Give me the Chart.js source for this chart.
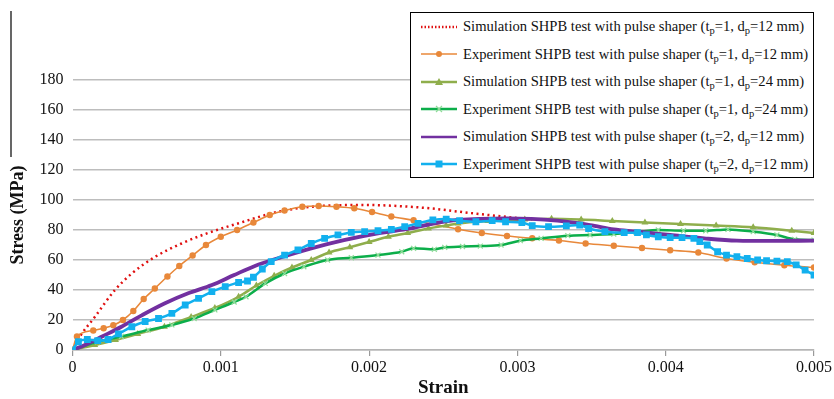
<!DOCTYPE html>
<html>
<head>
<meta charset="utf-8">
<script src="https://cdn.jsdelivr.net/npm/chart.js@4.4.1/dist/chart.umd.min.js"></script>
<style>
  html, body { margin: 0; padding: 0; background: #fff; }
  #wrap { position: relative; width: 834px; height: 399px; }
  #legend {
    position: absolute; left: 410px; top: 12px; width: 404px; height: 166px;
    border: 1.5px solid #000; background: #fff; box-sizing: border-box;
    font-family: "Liberation Serif", "Times New Roman", serif; font-size: 14.6px; color: #111;
    padding-top: 0px;
  }
  .row { display: flex; align-items: center; height: 27.5px; white-space: nowrap; }
  .row svg { margin-left: 9px; margin-right: 5px; flex: none; }
  sub { font-size: 10.5px; vertical-align: -3px; line-height: 0; }
</style>
</head>
<body>
<div id="wrap">
  <canvas id="stressChart" width="834" height="399"></canvas>
  <div id="legend"></div>
</div>
<script>
// 歪み・応力データ
const simT1D12Strain = [0, 0.00005, 0.00015, 0.000286, 0.0004, 0.000555, 0.000735, 0.000914, 0.00112, 0.00138, 0.00161, 0.00195, 0.00237, 0.00271, 0.003, 0.0031];
const simT1D12Stress = [0, 9, 22, 40, 51, 62, 71, 78, 84.5, 92, 95.5, 96.7, 94.8, 91, 88, 87];

const expT1D12Strain = [0, 0.00003, 0.00014, 0.00021, 0.000275, 0.00034, 0.00041, 0.00048, 0.000555, 0.00064, 0.00072, 0.00081, 0.0009, 0.001, 0.00111, 0.00122, 0.00133, 0.00143, 0.00155, 0.00166, 0.00178, 0.0019, 0.00202, 0.00215, 0.0023, 0.0026, 0.00276, 0.00293, 0.0031, 0.00328, 0.00346, 0.00365, 0.00384, 0.00403, 0.00422, 0.00441, 0.0046, 0.0048, 0.005];
const expT1D12Stress = [0, 9, 13, 14.5, 16.5, 20, 26, 34, 41, 49, 56, 63, 70, 75.5, 80, 85, 90, 93, 95.5, 96, 95.5, 94.5, 92, 89, 86.5, 80.5, 78, 76, 74.5, 73, 71, 69.5, 68, 66.5, 65, 61, 58.5, 56.5, 55];

const simT1D24Strain = [0, 0.00015, 0.00029, 0.00044, 0.00062, 0.0008, 0.00096, 0.00112, 0.00124, 0.00136, 0.00148, 0.00161, 0.00173, 0.00187, 0.002, 0.00213, 0.00226, 0.0024, 0.00252, 0.0026, 0.0028, 0.00305, 0.00323, 0.00343, 0.00364, 0.00386, 0.0041, 0.00434, 0.00459, 0.00485, 0.005];
const simT1D24Stress = [0, 3.3, 6.7, 10.7, 15.5, 22, 28, 35.5, 43, 49.5, 55, 60, 65, 68.5, 72, 75.5, 78, 81, 83, 84.4, 86, 87, 87.5, 87, 86, 85, 84, 83, 81.8, 79.5, 78];

const expT1D24Strain = [0, 0.00017, 0.00033, 0.00051, 0.00067, 0.00082, 0.00096, 0.00109, 0.00117, 0.0013, 0.00143, 0.00156, 0.00172, 0.00188, 0.00206, 0.00222, 0.0023, 0.00244, 0.00251, 0.00263, 0.00275, 0.00289, 0.00302, 0.00316, 0.00334, 0.00349, 0.00365, 0.0038, 0.00395, 0.00412, 0.00427, 0.00442, 0.00459, 0.00475, 0.00487, 0.005];
const expT1D24Stress = [0, 5.5, 9, 13.3, 16.7, 21, 26.7, 32, 35.5, 44.4, 51, 55.5, 60, 61.5, 63.3, 65.5, 67.8, 67.1, 68.4, 69, 69.3, 70, 72.9, 74.4, 76.2, 76.7, 77.3, 78.5, 80, 79.5, 79.5, 80.4, 78.9, 76.7, 73.8, 73.3];

const simT2D12Strain = [0, 0.000084, 0.0002, 0.00033, 0.00047, 0.00062, 0.00078, 0.00094, 0.00109, 0.00123, 0.00138, 0.00161, 0.00183, 0.00206, 0.00228, 0.00244, 0.0026, 0.00293, 0.00327, 0.00349, 0.00365, 0.0038, 0.00403, 0.00426, 0.00448, 0.0047, 0.005];
const simT2D12Stress = [0, 3.3, 9, 15.5, 23.3, 31, 37.8, 43.3, 50, 56, 61, 67.8, 73.3, 77.8, 81, 84.4, 86.7, 87.8, 86.2, 83.3, 80.4, 79, 76.7, 74.4, 72.9, 72.7, 72.9];

const expT2D12Strain = [0, 0.00004, 0.0001, 0.00017, 0.00024, 0.00031, 0.0004, 0.00049, 0.00058, 0.00067, 0.00076, 0.00085, 0.00094, 0.00103, 0.00112, 0.00118, 0.00122, 0.00128, 0.00134, 0.00143, 0.00152, 0.00161, 0.0017, 0.00179, 0.00188, 0.00197, 0.00206, 0.00215, 0.00224, 0.00233, 0.00243, 0.00252, 0.00261, 0.00272, 0.00283, 0.00292, 0.00303, 0.0031, 0.00321, 0.00333, 0.00342, 0.00348, 0.00359, 0.00372, 0.00381, 0.00387, 0.00395, 0.00403, 0.00411, 0.00419, 0.00423, 0.00428, 0.00435, 0.00441, 0.00448, 0.00455, 0.00462, 0.00468, 0.00475, 0.00482, 0.00488, 0.00494, 0.005];
const expT2D12Stress = [0, 5.5, 7, 6.2, 7, 10.7, 15.5, 19, 21, 24.4, 30, 34.4, 38.9, 42.2, 45, 46, 48.5, 54, 58.9, 63.3, 66.7, 71, 74.4, 76.7, 78.4, 78.9, 79.5, 80.4, 82.2, 84.4, 86.7, 87.3, 86.2, 85.5, 86.2, 85.5, 85, 82.9, 82.2, 82.7, 83.3, 81, 78.9, 78.2, 78.2, 76.7, 75.5, 74.9, 74.9, 74.4, 72.2, 70, 65.5, 63.3, 62.2, 61, 60, 59.5, 59.3, 58.9, 56.7, 53.3, 50];

const xTicks = [0, 0.001, 0.002, 0.003, 0.004, 0.005];
const yTicks = [0, 20, 40, 60, 80, 100, 120, 140, 160, 180];

function pts(xs, ys) { return xs.map((x, i) => ({ x: x, y: ys[i] })); }

const series = [
    { label: 'Simulation', t: 1, d: 12, xs: simT1D12Strain, ys: simT1D12Stress, color: '#e01010', width: 2.5, dash: [2, 3.5], marker: false, order: 6 },
    { label: 'Experiment', t: 1, d: 12, xs: expT1D12Strain, ys: expT1D12Stress, color: '#e8883a', width: 1.6, marker: 'circle', radius: 3.2, order: 5 },
    { label: 'Simulation', t: 1, d: 24, xs: simT1D24Strain, ys: simT1D24Stress, color: '#8fae4c', width: 2.5, marker: 'triangle', radius: 4, order: 4 },
    { label: 'Experiment', t: 1, d: 24, xs: expT1D24Strain, ys: expT1D24Stress, color: '#0cae4a', markerColor: '#8fdc98', width: 2.5, marker: 'crossRot', radius: 3.5, order: 3 },
    { label: 'Simulation', t: 2, d: 12, xs: simT2D12Strain, ys: simT2D12Stress, color: '#7230a0', width: 3.8, marker: false, order: 2 },
    { label: 'Experiment', t: 2, d: 12, xs: expT2D12Strain, ys: expT2D12Stress, color: '#12b0ee', width: 2.5, marker: 'rect', radius: 4.8, order: 1 }
];

// 左上の枠線の名残
const borderLine = {
    id: 'borderLine',
    afterDraw(chart) {
        const c = chart.ctx;
        c.save();
        c.strokeStyle = '#000';
        c.lineWidth = 1.2;
        c.beginPath();
        c.moveTo(11, 11);
        c.lineTo(11, 157);
        c.stroke();
        c.restore();
    }
};

const ctx = document.getElementById('stressChart').getContext('2d');
const serif = '"Liberation Serif", "Times New Roman", serif';

new Chart(ctx, {
    type: 'scatter',
    data: {
        datasets: series.map(s => ({
            label: s.label,
            data: pts(s.xs, s.ys),
            showLine: true,
            borderColor: s.color,
            backgroundColor: s.markerColor || s.color,
            borderWidth: s.width,
            borderDash: s.dash || [],
            tension: 0.35,
            cubicInterpolationMode: 'monotone',
            pointStyle: s.marker || 'circle',
            pointRadius: s.marker ? s.radius : 0,
            pointBorderColor: s.markerColor || s.color,
            pointBackgroundColor: s.markerColor || s.color,
            pointBorderWidth: s.marker === 'crossRot' ? 1.2 : 0,
            order: s.order
        }))
    },
    options: {
        responsive: false,
        animation: false,
        layout: { padding: { top: 80, right: 19, left: 0, bottom: 0 } },
        plugins: { legend: { display: false }, tooltip: { enabled: false } },
        scales: {
            x: {
                type: 'linear', min: 0, max: 0.005,
                afterBuildTicks: sc => { sc.ticks = xTicks.map(v => ({ value: v })); },
                afterFit: sc => { sc.height = 49; },
                grid: { display: true, drawOnChartArea: false, drawTicks: true, tickLength: 6, color: '#9a9a9a', lineWidth: 1.2 },
                border: { display: true, color: '#b5b5b5', width: 1.5 },
                ticks: { color: '#111', font: { family: serif, size: 16 }, padding: 2, maxRotation: 0,
                         callback: v => (v === 0 ? '0' : v.toFixed(3)) },
                title: { display: true, text: 'Strain', color: '#111', font: { family: serif, size: 19, weight: 'bold' }, padding: { top: 0, bottom: 0 } }
            },
            y: {
                min: 0, max: 180,
                afterBuildTicks: sc => { sc.ticks = yTicks.map(v => ({ value: v })); },
                afterFit: sc => { sc.width = 72.5; },
                grid: { color: '#bdbdbd', lineWidth: 1.5, drawTicks: false },
                border: { display: false },
                ticks: { color: '#111', font: { family: serif, size: 16 }, padding: 9 },
                title: { display: true, text: 'Stress (MPa)', color: '#111', font: { family: serif, size: 18, weight: 'bold' }, padding: { top: 8, bottom: 0 } }
            }
        }
    },
    plugins: [borderLine]
});

// 凡例（下付き文字があるのでHTMLで作成）
function symbolSvg(s) {
    const col = s.color;
    const mc = s.markerColor || s.color;
    let line = `<line x1="1" y1="6" x2="37" y2="6" stroke="${col}" stroke-width="${Math.min(s.width, 2.5)}"` +
        (s.dash ? ' stroke-dasharray="1.5,2"' : '') + '/>';
    let mk = '';
    if (s.marker === 'circle') mk = `<circle cx="19" cy="6" r="3" fill="${mc}"/>`;
    if (s.marker === 'triangle') mk = `<polygon points="19,2 23,9 15,9" fill="${mc}"/>`;
    if (s.marker === 'crossRot') mk = `<path d="M16,3 L22,9 M22,3 L16,9" stroke="${mc}" stroke-width="1.2"/>`;
    if (s.marker === 'rect') mk = `<rect x="15.5" y="2.5" width="7" height="7" fill="${mc}"/>`;
    return `<svg width="38" height="12">${line}${mk}</svg>`;
}

const legendEl = document.getElementById('legend');
series.forEach(s => {
    const row = document.createElement('div');
    row.className = 'row';
    row.innerHTML = symbolSvg(s) +
        `<span>${s.label} SHPB test with pulse shaper (t<sub>p</sub>=${s.t}, d<sub>p</sub>=${s.d} mm)</span>`;
    legendEl.appendChild(row);
});
</script>
</body>
</html>
